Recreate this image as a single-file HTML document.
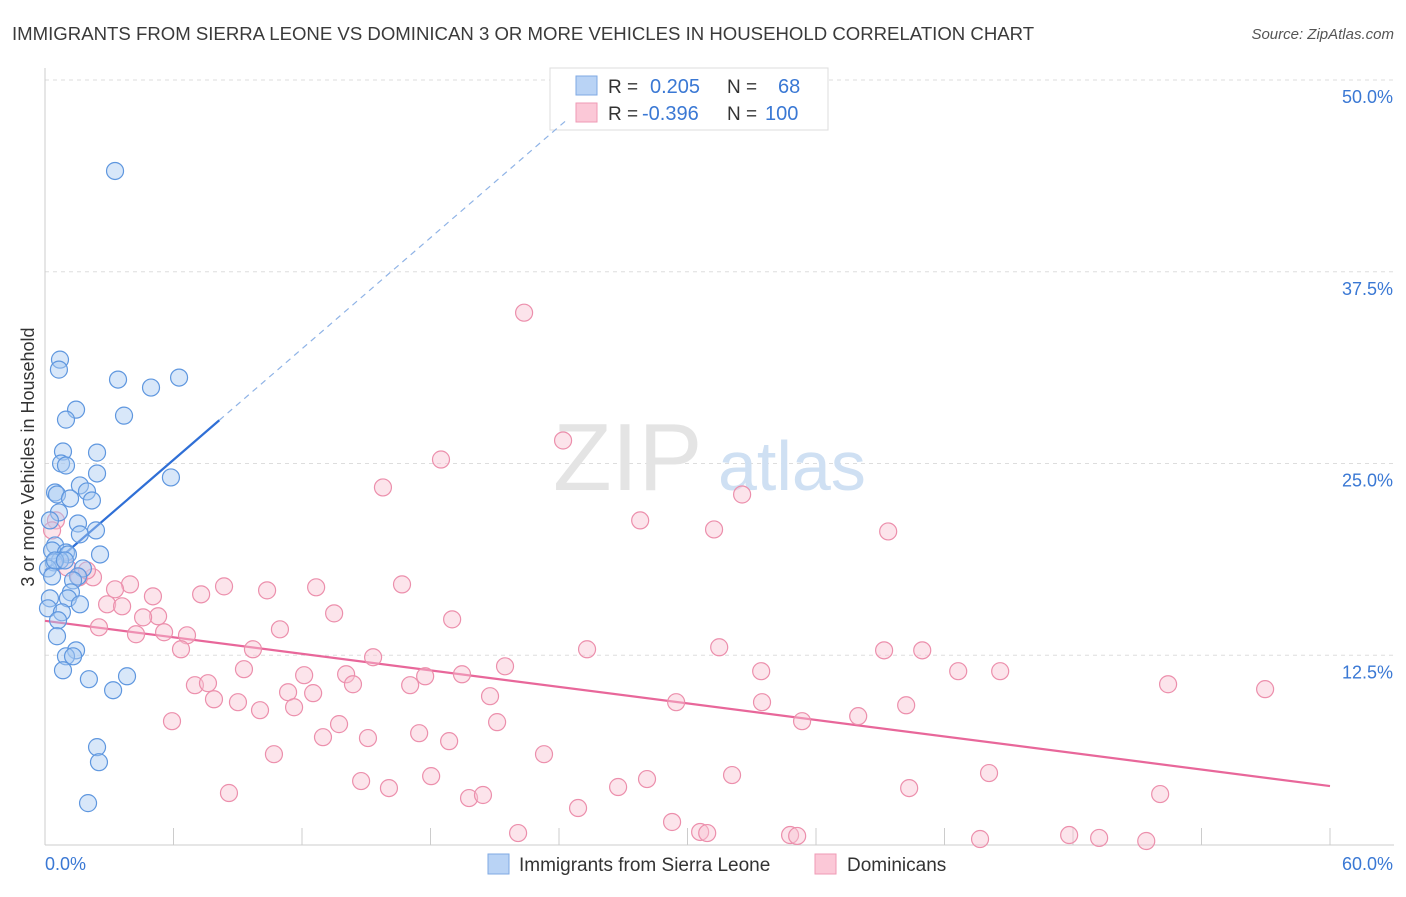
<!DOCTYPE html>
<html><head><meta charset="utf-8"><style>
body{margin:0;background:#fff;font-family:"Liberation Sans",sans-serif;}
svg text{font-family:"Liberation Sans",sans-serif;}
</style></head><body>
<svg id="chart" width="1406" height="892">
<text x="12" y="40" font-size="18.6" fill="#3a3a3a">IMMIGRANTS FROM SIERRA LEONE VS DOMINICAN 3 OR MORE VEHICLES IN HOUSEHOLD CORRELATION CHART</text>
<text x="1394" y="39" font-size="15" fill="#555" text-anchor="end" font-style="italic">Source: ZipAtlas.com</text>
<g id="grid"></g>
<g><text x="553" y="490" font-size="96" font-family="Liberation Serif" fill="#e4e4e4">ZIP</text><text x="718" y="490" font-size="70" fill="#cfe0f3">atlas</text></g>
<text transform="translate(34,457) rotate(-90)" font-size="18" fill="#333" text-anchor="middle">3 or more Vehicles in Household</text>
<g id="axes"></g>
<g>
<rect x="550" y="68" width="278" height="62" fill="#fff" stroke="#ddd"/>
<rect x="576" y="76" width="21" height="19" fill="#b9d3f5" stroke="#7fa9e3"/>
<rect x="576" y="103" width="21" height="19" fill="#fbc8d7" stroke="#ef9ab4"/>
<text x="608" y="93" font-size="19" fill="#333">R = </text><text x="650" y="93" font-size="20" fill="#3a78d4">0.205</text>
<text x="727" y="93" font-size="19" fill="#333">N = </text><text x="778" y="93" font-size="20" fill="#3a78d4">68</text>
<text x="608" y="120" font-size="19" fill="#333">R = </text><text x="642" y="120" font-size="20" fill="#3a78d4">-0.396</text>
<text x="727" y="120" font-size="19" fill="#333">N = </text><text x="765" y="120" font-size="20" fill="#3a78d4">100</text>
</g>
<g id="trend"></g>
<g id="pts"></g>
<g>
<rect x="488" y="854" width="21" height="20" fill="#b9d3f5" stroke="#7fa9e3"/>
<text x="519" y="871" font-size="19" fill="#333">Immigrants from Sierra Leone</text>
<rect x="815" y="854" width="21" height="20" fill="#fbc8d7" stroke="#ef9ab4"/>
<text x="847" y="871" font-size="19" fill="#333">Dominicans</text>
</g>
</svg>
<script>
const yTicks=[12.5,25,37.5,50];
const yTickLabels=["12.5%","25.0%","37.5%","50.0%"];
const xTickLabels=["0.0%","60.0%"];
const blueX=[3.27,0.70,0.65,3.41,4.95,6.26,1.45,3.69,0.98,0.84,2.43,0.75,0.98,2.43,5.88,1.63,0.47,0.56,1.96,2.19,1.17,0.65,0.23,1.54,2.38,1.63,0.47,0.33,0.98,1.07,2.57,0.70,0.42,0.14,1.77,1.54,1.31,0.33,1.21,0.23,1.07,1.63,0.14,0.79,0.61,0.56,1.45,0.98,1.31,0.84,3.83,2.05,3.18,2.43,2.52,2.01,0.47,0.93];
const blueY=[44.07,31.77,31.12,30.47,29.95,30.60,28.51,28.12,27.86,25.78,25.71,25.0,24.87,24.35,24.09,23.57,23.11,22.98,23.18,22.59,22.72,21.81,21.29,21.09,20.64,20.38,19.66,19.33,19.20,19.07,19.07,18.68,18.55,18.16,18.16,17.64,17.38,17.64,16.60,16.21,16.21,15.82,15.56,15.30,14.78,13.74,12.82,12.43,12.43,11.52,11.13,10.94,10.22,6.51,5.53,2.86,18.68,18.68];
const pinkX=[22.37,24.19,18.49,15.78,32.55,27.79,31.24,39.37,0.51,0.33,2.24,1.59,3.97,1.03,3.27,5.04,8.36,10.37,12.66,16.67,7.29,2.90,3.60,5.28,4.58,13.50,19.01,2.52,10.97,4.25,5.56,6.63,6.35,9.71,15.32,9.29,12.10,14.06,17.75,19.47,21.48,25.31,31.48,33.44,39.18,40.96,42.64,44.60,52.44,56.97,7.00,7.61,11.35,12.52,14.38,17.05,20.78,29.47,33.48,7.89,9.01,10.04,11.63,5.93,13.73,21.11,35.35,37.97,40.21,12.98,17.47,18.87,15.08,10.69,23.30,14.76,18.03,16.06,19.80,20.45,26.76,28.11,32.08,40.35,44.08,52.07,8.59,24.89,29.28,22.09,30.59,30.92,34.79,35.12,43.66,47.82,49.22,51.42,1.96];
const pinkY=[34.83,26.50,25.26,23.44,22.98,21.29,20.70,20.57,21.29,20.64,17.58,17.58,17.12,18.23,16.80,16.34,16.99,16.73,16.93,17.12,16.47,15.82,15.69,15.04,14.97,15.23,14.84,14.32,14.19,13.87,14.00,13.80,12.89,12.89,12.37,11.59,11.20,11.26,11.13,11.26,11.78,12.89,13.02,11.46,12.82,12.82,11.46,11.46,10.61,10.29,10.55,10.68,10.09,10.03,10.61,10.55,9.83,9.44,9.44,9.63,9.44,8.92,9.11,8.20,8.01,8.14,8.20,8.53,9.24,7.16,7.42,6.90,7.10,6.05,6.05,4.30,4.62,3.84,3.19,3.39,3.91,4.43,4.69,3.84,4.82,3.45,3.52,2.54,1.63,0.91,0.98,0.91,0.78,0.72,0.52,0.78,0.59,0.39,18.03];
const NS="http://www.w3.org/2000/svg";
const X0=45,X1=1330,YB=847,YT=80;
const sx=v=>X0+(X1-X0)*v/60;
const sy=v=>YB-(YB-YT)*v/50;
function mk(t,a,p){const e=document.createElementNS(NS,t);for(const k in a)e.setAttribute(k,a[k]);p.appendChild(e);return e;}
const grid=document.getElementById('grid'),axes=document.getElementById('axes');
yTicks.forEach((t,i)=>{
 const l=mk('line',{x1:X0,x2:1394,y1:sy(t),y2:sy(t),stroke:'#ddd','stroke-dasharray':'4,4'},grid);
 
 
 const tx=mk('text',{x:1393,y:sy(t)+23,'font-size':18,fill:'#3a78d4','text-anchor':'end'},axes);
 tx.textContent=yTickLabels[i];
 
 
});
mk('line',{x1:X0,x2:X0,y1:68,y2:845,stroke:'#ccc'},axes);
mk('line',{x1:X0,x2:1394,y1:845,y2:845,stroke:'#ccc'},axes);
for(let i=0;i<=10;i++){const t=mk('line',{x1:sx(i*6),x2:sx(i*6),y1:828,y2:845,stroke:'#ccc'},axes);
 
 }
let a=mk('text',{x:45,y:870,'font-size':18,fill:'#3a78d4'},axes);a.textContent=xTickLabels[0];


a=mk('text',{x:1393,y:870,'font-size':18,fill:'#3a78d4','text-anchor':'end'},axes);a.textContent=xTickLabels[1];


function fit(xs,ys){const n=xs.length;let mx=0,my=0;for(let i=0;i<n;i++){mx+=xs[i];my+=ys[i];}mx/=n;my/=n;let sxy=0,sxx=0;for(let i=0;i<n;i++){sxy+=(xs[i]-mx)*(ys[i]-my);sxx+=(xs[i]-mx)**2;}const b=sxy/sxx;return[my-b*mx,b];}
const pts=document.getElementById('pts');
function dots(xs,ys,fill,stroke,name){xs.forEach((x,i)=>{const c=mk('circle',{cx:sx(x),cy:sy(ys[i]),r:8.5,fill:fill,'fill-opacity':0.45,stroke:stroke,'stroke-width':1.2},pts);
 
 });}
dots(pinkX,pinkY,'#f9c3d3','#ec8fac','point-dominicans');
dots(blueX,blueY,'#a9c9f1','#5f97df','point-sierra-leone');
const tr=document.getElementById('trend');
const [ba,bb]=fit(blueX,blueY);const bmax=Math.max(...blueX)*1.3;
const bl=mk('line',{x1:sx(0),y1:sy(ba),x2:sx(bmax),y2:sy(ba+bb*bmax),stroke:'#2f6fd6','stroke-width':2.2},tr);


const xe=Math.min(60,(47.5-ba)/bb);
const bd=mk('line',{x1:sx(bmax),y1:sy(ba+bb*bmax),x2:sx(xe),y2:sy(ba+bb*xe),stroke:'#8fb3e6','stroke-width':1.2,'stroke-dasharray':'6,5'},tr);


const [pa,pb]=fit(pinkX,pinkY);
const pl=mk('line',{x1:sx(0),y1:sy(pa),x2:sx(60),y2:sy(pa+pb*60),stroke:'#e8679a','stroke-width':2.2},tr);


</script>
</body></html>
